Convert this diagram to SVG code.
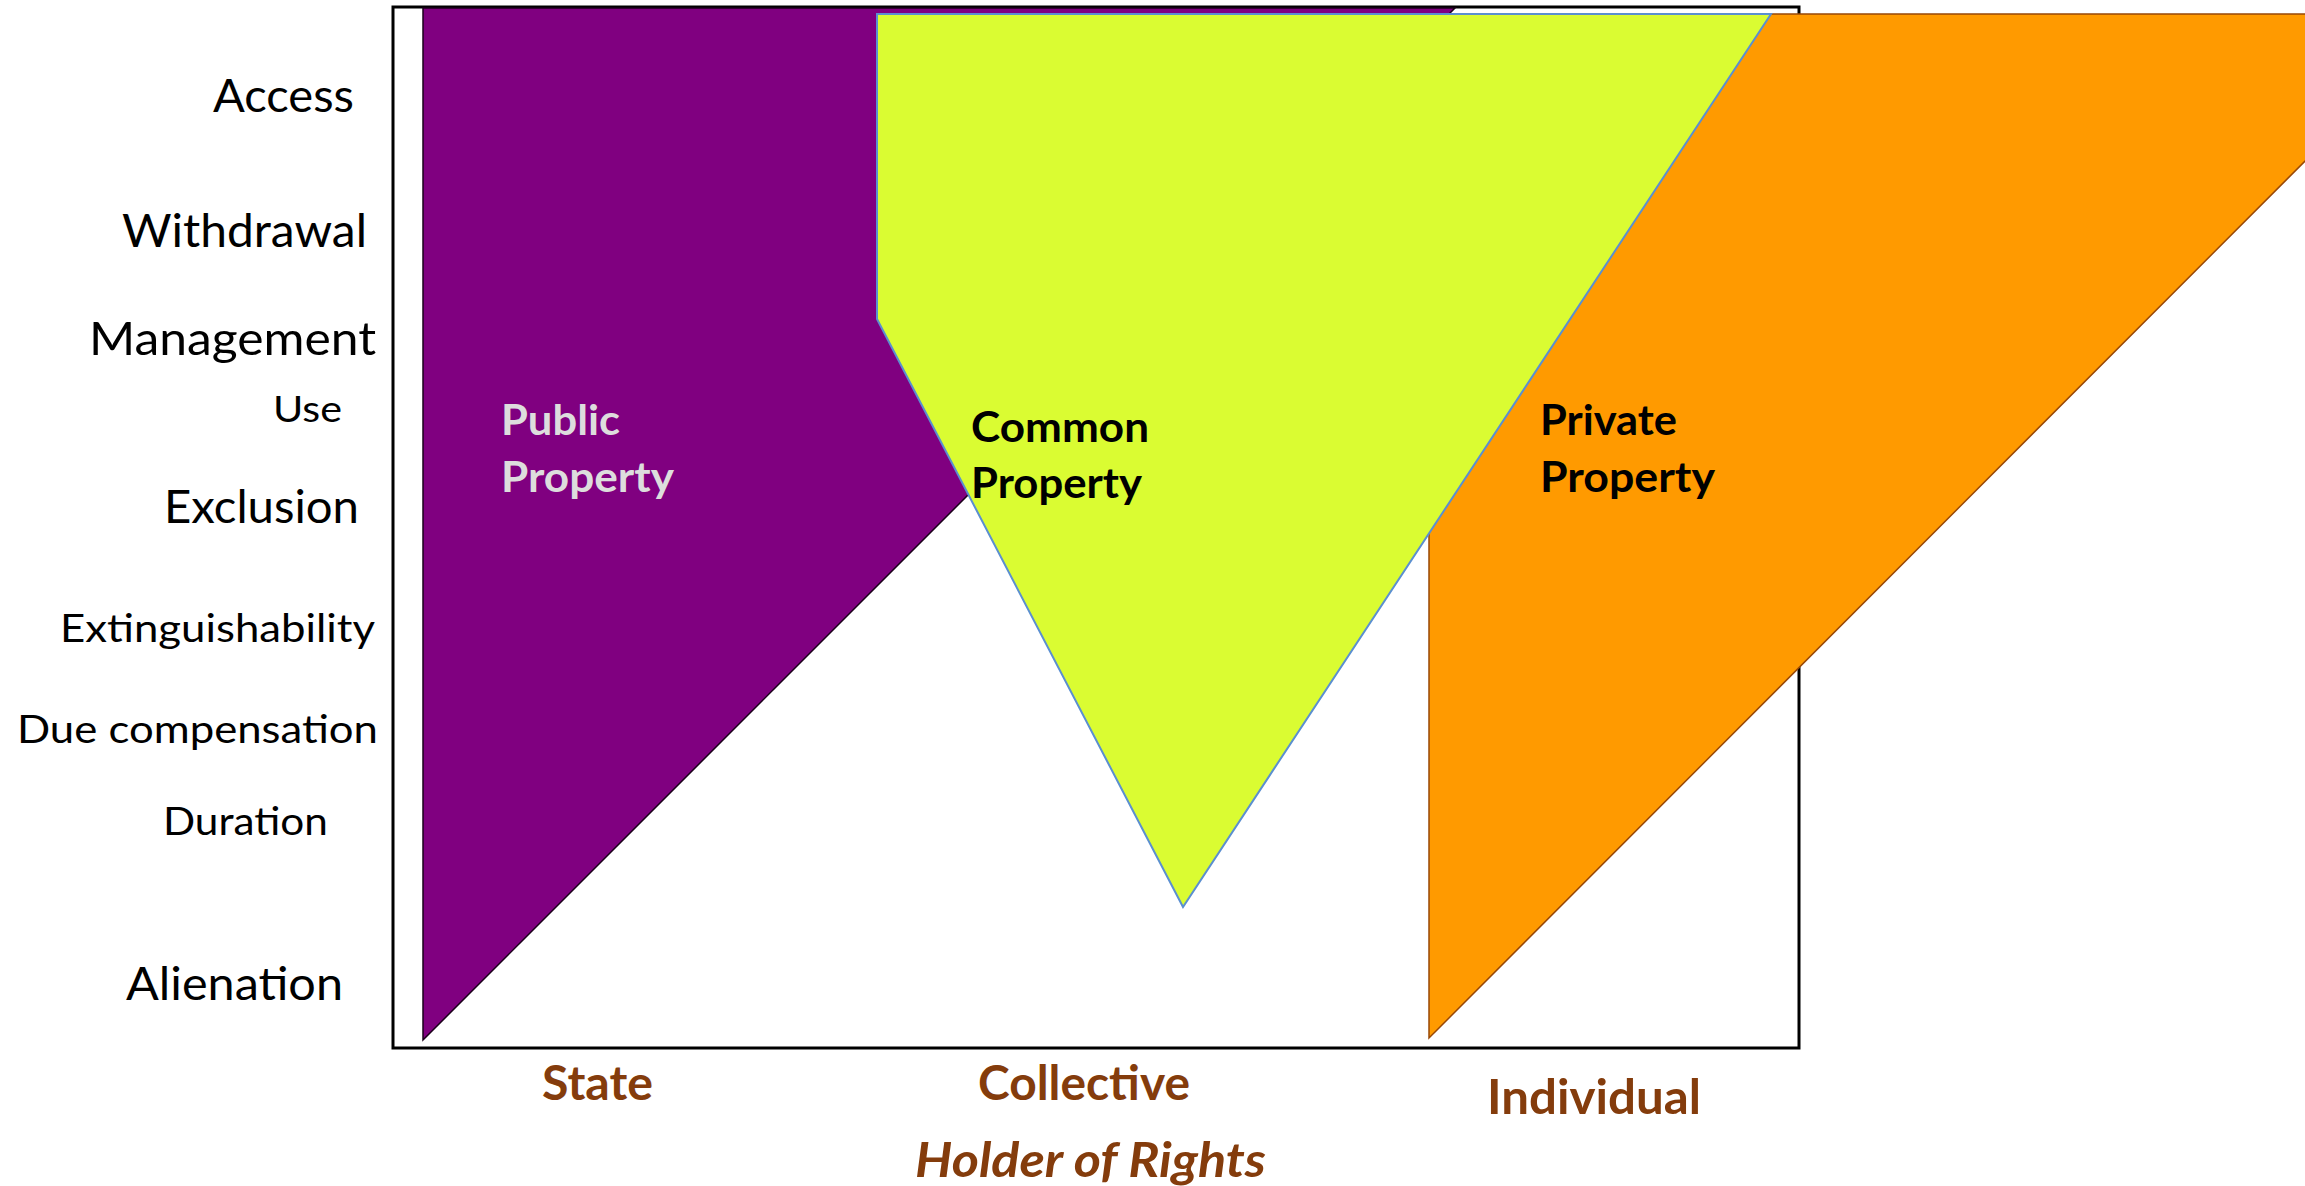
<svg xmlns="http://www.w3.org/2000/svg" width="2305" height="1186" viewBox="0 0 2305 1186">
  <style>
    .axis { font-family: Lato, "Open Sans", "Liberation Sans", sans-serif; fill: #000; }
    .big { font-size: 47px; }
    .small { font-size: 39px; }
    .use { font-size: 37px; }
    .holder { font-family: Lato, "Open Sans", "Liberation Sans", sans-serif; font-weight: bold; font-size: 47px; fill: #843C0C; }
    .region { font-family: Lato, "Open Sans", "Liberation Sans", sans-serif; font-weight: bold; font-size: 42px; }
  </style>

  <!-- white page and chart frame -->
  <rect x="0" y="0" width="2305" height="1186" fill="#ffffff"/>
  <rect id="frame" x="393" y="7" width="1406" height="1041" fill="none" stroke="#000000" stroke-width="3"/>

  <!-- public property: state-held wedge -->
  <g id="public-property">
    <polygon points="423,8 1455,8 423,1040" fill="#800080" stroke="#1a001a" stroke-width="1.5"/>
  </g>

  <!-- private property: individual-held wedge -->
  <g id="private-property">
    <polygon points="1429,14 2452,14 1429,1038" fill="#FF9A00" stroke="#984807" stroke-width="1.5"/>
  </g>

  <!-- common property: collective-held wedge -->
  <g id="common-property">
    <polygon points="877,14 1771,14 1183,907 877,319" fill="#DAFC32" stroke="#5B8FD0" stroke-width="2"/>
  </g>

  <!-- region labels -->
  <g id="label-public" class="region" fill="#DDDDDD">
    <text x="501" y="435" textLength="119" lengthAdjust="spacingAndGlyphs">Public</text>
    <text x="501" y="492" textLength="173" lengthAdjust="spacingAndGlyphs">Property</text>
  </g>
  <g id="label-common" class="region" fill="#000000">
    <text x="971" y="442" textLength="178" lengthAdjust="spacingAndGlyphs">Common</text>
    <text x="971" y="498" textLength="171" lengthAdjust="spacingAndGlyphs">Property</text>
  </g>
  <g id="label-private" class="region" fill="#000000">
    <text x="1540" y="435" textLength="137" lengthAdjust="spacingAndGlyphs">Private</text>
    <text x="1540" y="492" textLength="175" lengthAdjust="spacingAndGlyphs">Property</text>
  </g>

  <!-- rights along the vertical axis -->
  <g id="rights-axis" class="axis">
    <text class="big" x="213" y="112" textLength="141" lengthAdjust="spacingAndGlyphs">Access</text>
    <text class="big" x="122" y="247" textLength="245" lengthAdjust="spacingAndGlyphs">Withdrawal</text>
    <text class="big" x="89" y="355" textLength="287" lengthAdjust="spacingAndGlyphs">Management</text>
    <text class="use" x="273" y="422" textLength="69" lengthAdjust="spacingAndGlyphs">Use</text>
    <text class="big" x="164" y="523" textLength="195" lengthAdjust="spacingAndGlyphs">Exclusion</text>
    <text class="small" x="60" y="642" textLength="315" lengthAdjust="spacingAndGlyphs">Extinguishability</text>
    <text class="small" x="17" y="743" textLength="361" lengthAdjust="spacingAndGlyphs">Due compensation</text>
    <text class="small" x="163" y="835" textLength="165" lengthAdjust="spacingAndGlyphs">Duration</text>
    <text class="big" x="126" y="1000" textLength="217" lengthAdjust="spacingAndGlyphs">Alienation</text>
  </g>

  <!-- holders along the horizontal axis -->
  <g id="holders-axis" class="holder">
    <text x="542" y="1100" textLength="111" lengthAdjust="spacingAndGlyphs">State</text>
    <text x="978" y="1100" textLength="212" lengthAdjust="spacingAndGlyphs">Collective</text>
    <text x="1487" y="1114" textLength="214" lengthAdjust="spacingAndGlyphs">Individual</text>
    <text x="915" y="1177" font-style="italic" textLength="351" lengthAdjust="spacingAndGlyphs">Holder of Rights</text>
  </g>
</svg>
